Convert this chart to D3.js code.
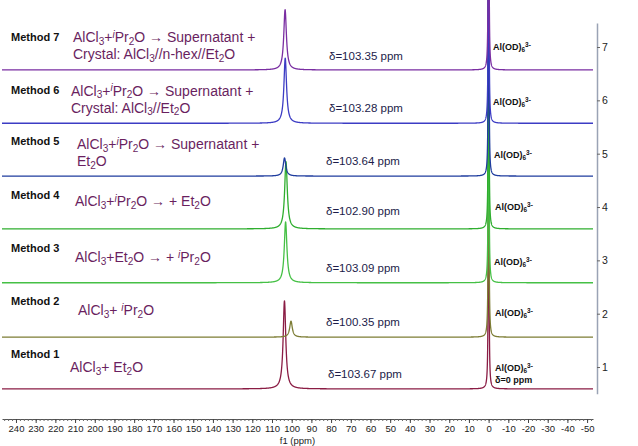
<!DOCTYPE html>
<html>
<head>
<meta charset="utf-8">
<script src="https://cdn.jsdelivr.net/npm/d3@7"></script>
<style>
  html, body { margin: 0; padding: 0; background: #fff; }
  svg { display: block; font-family: "Liberation Sans", Arial, sans-serif; }
</style>
</head>
<body>
<svg id="chart" width="638" height="446"></svg>
<script>
// ---------------- DATA ----------------
const methods = ["Method 1", "Method 2", "Method 3", "Method 4", "Method 5", "Method 6", "Method 7"];
const descriptions = [
  ["AlCl_{3}+ Et_{2}O"],
  ["AlCl_{3}+ ^{i}Pr_{2}O"],
  ["AlCl_{3}+Et_{2}O \u2192 + ^{i}Pr_{2}O"],
  ["AlCl_{3}+^{i}Pr_{2}O \u2192 + Et_{2}O"],
  ["AlCl_{3}+^{i}Pr_{2}O \u2192 Supernatant +", "Et_{2}O"],
  ["AlCl_{3}+^{i}Pr_{2}O \u2192 Supernatant +", "Crystal: AlCl_{3}//Et_{2}O"],
  ["AlCl_{3}+^{i}Pr_{2}O \u2192 Supernatant +", "Crystal: AlCl_{3}//n-hex//Et_{2}O"]
];
const shiftLabels = ["\u03b4=103.67 ppm", "\u03b4=100.35 ppm", "\u03b4=103.09 ppm", "\u03b4=102.90 ppm",
                     "\u03b4=103.64 ppm", "\u03b4=103.28 ppm", "\u03b4=103.35 ppm"];
const peakPpm    = [103.67, 100.35, 103.09, 102.90, 103.64, 103.28, 103.35];
const peakHeight = [1.65, 0.30, 1.14, 1.26, 0.34, 1.22, 1.13];
const refPpm     = [0, 0, 0, 0, 0, 0, 0];
const refHeight  = [9, 9, 9, 9, 9, 9, 9];
const baselines  = [0.59, 1.56, 2.58, 3.59, 4.58, 5.57, 6.57];
const refLabel   = "Al(OD)_{6}^{3-}";
const refNote    = "\u03b4=0 ppm";
const xTickLabels = [240, 230, 220, 210, 200, 190, 180, 170, 160, 150, 140, 130, 120, 110, 100,
                     90, 80, 70, 60, 50, 40, 30, 20, 10, 0, -10, -20, -30, -40, -50];
const yTickLabels = [1, 2, 3, 4, 5, 6, 7];
const xTitle = "f1 (ppm)";

// ---------------- LAYOUT / STYLE ----------------
const colors = ["#8a1c44", "#7d7d35", "#45c045", "#2fae2f", "#1f3d9e", "#3c3cc4", "#7a2ea2"];
const methodY = [358, 305, 252, 199, 145, 94, 41];
const descX = [70, 78, 75, 75, 77, 71, 73];
const descY = [372, 315, 262, 206, 149, 95.5, 42];
const shiftX = [328, 326, 326, 326, 326, 329, 329];
const shiftY = [378, 326, 272, 215, 165, 112, 60];
const refX = [495, 495, 494, 495, 494, 493, 493];
const refY = [371, 316, 265, 210, 158, 105, 50];
const lineGap = 17;
const hwhm = 0.8, refHwhm = 0.15;

const svg = d3.select("#chart");

const x = d3.scaleLinear().domain([247.1, -53]).range([2, 593]);
const y = d3.scaleLinear().domain([0.5, 7.45]).range([393.7, 23]);

// rich text helper: _{sub} ^{sup}
function richText(sel, str, baseSize) {
  const re = /(_\{[^}]*\}|\^\{[^}]*\})/g;
  const parts = str.split(re).filter(s => s.length);
  let shift = 0;
  parts.forEach(p => {
    let t, dy = 0, size = baseSize, italic = false;
    if (p.startsWith("_{")) { t = p.slice(2, -1); dy = baseSize * 0.2; size = baseSize * 0.72; }
    else if (p.startsWith("^{")) { t = p.slice(2, -1); dy = -baseSize * 0.32; size = baseSize * 0.72; italic = (t === "i"); }
    else { t = p; dy = 0; }
    const ts = sel.append("tspan").text(t).attr("font-size", size).attr("dy", (dy - shift).toFixed(2));
    if (italic) ts.attr("font-style", "italic");
    shift = dy;
  });
}

// ---------------- SPECTRA ----------------
const samples = d3.range(247.1, -53.0001, -0.05);
const line = d3.line().x(d => x(d[0])).y(d => y(d[1]));

const spectra = svg.append("g");
methods.forEach((m, i) => {
  const pts = samples.map(p => {
    const a = (p - peakPpm[i]) / hwhm;
    const b = (p - refPpm[i]) / refHwhm;
    return [p, baselines[i] + peakHeight[i] / (1 + a * a) + refHeight[i] / (1 + b * b)];
  });
  spectra.append("path")
    .datum(pts)
    .attr("d", line)
    .attr("fill", "none")
    .attr("stroke", colors[i])
    .attr("stroke-width", 1.3)
    .attr("stroke-linejoin", "round");
});

// ---------------- AXES ----------------
const xAxisY = 419;
const minorTicks = d3.range(246, -53, -2);
svg.append("g")
  .attr("transform", `translate(0,${xAxisY})`)
  .call(d3.axisBottom(x).tickValues(minorTicks).tickSize(2).tickFormat("").tickSizeOuter(0))
  .call(g => g.select(".domain").attr("stroke", "#555"))
  .call(g => g.selectAll(".tick line").attr("stroke", "#666"));
const xAxis = svg.append("g")
  .attr("transform", `translate(0,${xAxisY})`)
  .call(d3.axisBottom(x).tickValues(xTickLabels).tickSize(4).tickSizeOuter(0).tickPadding(2)
        .tickFormat(d => String(d)))
  .call(g => g.select(".domain").remove())
  .call(g => g.selectAll(".tick line").attr("stroke", "#444"));
xAxis.selectAll(".tick text").attr("font-size", 9.5).attr("fill", "#222")
  .attr("font-family", "Liberation Sans, Arial, sans-serif");
svg.append("text")
  .attr("x", (x.range()[0] + x.range()[1]) / 2).attr("y", 444)
  .attr("text-anchor", "middle").attr("font-size", 9.5).attr("fill", "#222")
  .text(xTitle);

const yAxis = svg.append("g")
  .attr("transform", `translate(597,0)`)
  .call(d3.axisRight(y).tickValues(yTickLabels).tickSize(3).tickSizeOuter(0).tickPadding(2).tickFormat(d3.format("d")))
  .call(g => g.select(".domain").attr("stroke", "#9aa3b5").attr("stroke-width", 1.5))
  .call(g => g.selectAll(".tick line").attr("stroke", "#666"));
yAxis.selectAll(".tick text").attr("font-size", 10.5).attr("fill", "#222")
  .attr("font-family", "Liberation Sans, Arial, sans-serif");

// ---------------- LABELS ----------------
methods.forEach((m, i) => {
  svg.append("text").attr("x", 11).attr("y", methodY[i])
    .attr("font-size", 11).attr("font-weight", "bold").attr("fill", "#111").text(m);

  descriptions[i].forEach((d, k) => {
    const t = svg.append("text").attr("x", descX[i]).attr("y", descY[i] + k * lineGap)
      .attr("fill", "#6a1f5f");
    richText(t, d, 14);
  });

  svg.append("text").attr("x", shiftX[i]).attr("y", shiftY[i])
    .attr("font-size", 11.5).attr("fill", "#1c1c4a").text(shiftLabels[i]);

  const r = svg.append("text").attr("x", refX[i]).attr("y", refY[i])
    .attr("font-weight", "bold").attr("fill", "#111");
  richText(r, refLabel, 9);
});
svg.append("text").attr("x", 495).attr("y", 383)
  .attr("font-size", 9).attr("font-weight", "bold").attr("fill", "#111").text(refNote);
</script>
</body>
</html>
